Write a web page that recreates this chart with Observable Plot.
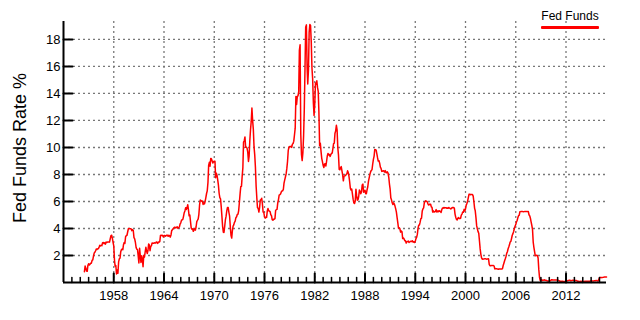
<!DOCTYPE html>
<html>
<head>
<meta charset="utf-8">
<script src="https://cdn.jsdelivr.net/npm/d3@7"></script>
<script src="https://cdn.jsdelivr.net/npm/@observablehq/plot@0.6"></script>
<style>
  html, body { margin: 0; padding: 0; background: #fff; }
  #wrap { position: relative; width: 640px; height: 320px; font-family: "Liberation Sans", Arial, sans-serif; }
  #legend { position: absolute; left: 541px; top: 9px; width: 58px; font-size: 12px; color: #000; text-align: center; white-space: nowrap; }
  #legend .sw { margin-top: 3px; height: 2.5px; background: #ff0000; border-radius: 1px; }
  #ylabel { position: absolute; left: 20px; top: 148px; font-size: 18px; color: #000; white-space: nowrap; transform: translate(-50%, -50%) rotate(-90deg); }
</style>
</head>
<body>
<div id="wrap"><div id="legend"><div id="legendText"></div><div class="sw"></div></div><div id="ylabel"></div></div>
<script>
// Monthly effective Fed Funds rate (%), starting July 1954
const seriesName = "Fed Funds";
const startYear = 1954, startMonth = 7;
const rates1950s = [
  0.80, 1.22, 1.06, 0.85, 0.83, 1.28,
  1.39, 1.29, 1.35, 1.43, 1.43, 1.64, 1.68, 1.96, 2.18, 2.24, 2.35, 2.48,
  2.45, 2.50, 2.50, 2.62, 2.75, 2.71, 2.75, 2.73, 2.95, 2.96, 2.88, 2.94,
  2.84, 3.00, 2.96, 3.00, 3.00, 3.00, 2.99, 3.24, 3.47, 3.50, 3.28, 2.98,
  2.72, 1.67, 1.20, 1.26, 0.63, 0.93, 0.68, 1.53, 1.76, 1.80, 2.27, 2.42,
  2.48, 2.43, 2.80, 2.96, 2.90, 3.39, 3.47, 3.50, 3.76, 3.98, 4.00, 3.99
];
const rates1960s = [
  3.99, 3.97, 3.84, 3.92, 3.85, 3.32, 3.23, 2.98, 2.60, 2.47, 2.44, 1.98,
  1.45, 2.54, 2.02, 1.49, 1.98, 1.73, 1.17, 2.00, 1.88, 2.26, 2.61, 2.33,
  2.15, 2.37, 2.85, 2.78, 2.36, 2.68, 2.71, 2.93, 2.90, 2.90, 2.94, 2.93,
  2.92, 3.00, 2.98, 2.90, 3.00, 2.99, 3.02, 3.49, 3.48, 3.50, 3.48, 3.38,
  3.48, 3.48, 3.43, 3.47, 3.50, 3.50, 3.42, 3.50, 3.45, 3.36, 3.52, 3.85,
  3.90, 3.98, 4.04, 4.09, 4.10, 4.04, 4.09, 4.12, 4.01, 4.08, 4.10, 4.32,
  4.42, 4.60, 4.65, 4.67, 4.90, 5.17, 5.30, 5.53, 5.40, 5.53, 5.76, 5.40,
  4.94, 5.00, 4.53, 4.05, 3.94, 3.98, 3.79, 3.90, 3.99, 3.88, 4.13, 4.51,
  4.61, 4.71, 5.05, 5.76, 6.11, 6.07, 6.02, 6.03, 5.78, 5.91, 5.82, 6.02,
  6.30, 6.61, 6.79, 7.41, 8.67, 8.90, 8.61, 9.19, 9.15, 9.00, 8.85, 8.97
];
const rates1970s = [
  8.98, 8.98, 7.76, 8.10, 7.94, 7.60, 7.21, 6.61, 6.29, 6.20, 5.60, 4.90,
  4.14, 3.72, 3.71, 4.16, 4.63, 4.91, 5.31, 5.56, 5.55, 5.20, 4.91, 4.14,
  3.50, 3.29, 3.83, 4.17, 4.27, 4.46, 4.55, 4.80, 4.87, 5.04, 5.06, 5.33,
  5.94, 6.58, 7.09, 7.12, 7.84, 8.49, 10.40, 10.50, 10.78, 10.01, 10.03, 9.95,
  9.65, 8.97, 9.35, 10.51, 11.31, 11.93, 12.92, 12.01, 11.34, 10.06, 9.45, 8.53,
  7.13, 6.24, 5.54, 5.49, 5.22, 5.55, 6.10, 6.14, 6.24, 5.82, 5.22, 5.20,
  4.87, 4.77, 4.84, 4.82, 5.29, 5.48, 5.31, 5.29, 5.25, 5.02, 4.95, 4.65,
  4.61, 4.68, 4.69, 4.73, 5.35, 5.39, 5.42, 5.90, 6.14, 6.47, 6.51, 6.56,
  6.70, 6.78, 6.79, 6.89, 7.36, 7.60, 7.81, 8.04, 8.45, 8.96, 9.76, 10.03,
  10.07, 10.06, 10.09, 10.01, 10.24, 10.29, 10.47, 10.94, 11.43, 13.77, 13.18, 13.78
];
const rates1980s = [
  13.82, 14.13, 17.19, 17.61, 10.98, 9.47, 9.03, 9.61, 10.87, 12.81, 15.85, 18.90,
  19.08, 15.93, 14.70, 15.72, 18.52, 19.10, 19.04, 17.82, 15.87, 15.08, 13.31, 12.37,
  13.22, 14.78, 14.68, 14.94, 14.45, 14.15, 12.59, 10.12, 10.31, 9.71, 9.20, 8.95,
  8.68, 8.51, 8.77, 8.80, 8.63, 8.98, 9.37, 9.56, 9.45, 9.48, 9.34, 9.47,
  9.56, 9.59, 9.91, 10.29, 10.32, 11.06, 11.23, 11.64, 11.30, 9.99, 9.43, 8.38,
  8.35, 8.50, 8.58, 8.27, 7.97, 7.53, 7.88, 7.90, 7.92, 7.99, 8.05, 8.27,
  8.14, 7.86, 7.48, 6.99, 6.85, 6.92, 6.56, 6.17, 5.89, 5.85, 6.04, 6.91,
  6.43, 6.10, 6.13, 6.37, 6.85, 6.73, 6.58, 6.73, 7.22, 7.29, 6.69, 6.77,
  6.83, 6.58, 6.58, 6.87, 7.09, 7.51, 7.75, 8.01, 8.19, 8.30, 8.35, 8.76,
  9.12, 9.36, 9.85, 9.84, 9.81, 9.53, 9.24, 8.99, 9.02, 8.84, 8.55, 8.45
];
const rates1990s = [
  8.23, 8.24, 8.28, 8.26, 8.18, 8.29, 8.15, 8.13, 8.20, 8.11, 7.81, 7.31,
  6.91, 6.25, 6.12, 5.91, 5.78, 5.90, 5.82, 5.66, 5.45, 5.21, 4.81, 4.43,
  4.03, 4.06, 3.98, 3.73, 3.82, 3.76, 3.25, 3.30, 3.22, 3.10, 3.09, 2.92,
  3.02, 3.03, 3.07, 2.96, 3.00, 3.04, 3.06, 3.03, 3.09, 2.99, 3.02, 2.96,
  3.05, 3.25, 3.34, 3.56, 4.01, 4.25, 4.26, 4.47, 4.73, 4.76, 5.29, 5.45,
  5.53, 5.92, 5.98, 6.05, 6.01, 6.00, 5.85, 5.74, 5.80, 5.76, 5.80, 5.60,
  5.56, 5.22, 5.31, 5.22, 5.24, 5.27, 5.40, 5.22, 5.30, 5.24, 5.31, 5.29,
  5.25, 5.19, 5.39, 5.51, 5.50, 5.56, 5.52, 5.54, 5.54, 5.50, 5.52, 5.50,
  5.56, 5.51, 5.49, 5.45, 5.49, 5.56, 5.54, 5.55, 5.51, 5.07, 4.83, 4.68,
  4.63, 4.76, 4.81, 4.74, 4.74, 4.76, 4.99, 5.07, 5.22, 5.20, 5.42, 5.30
];
const rates2000s = [
  5.45, 5.73, 5.85, 6.02, 6.27, 6.53, 6.54, 6.50, 6.52, 6.51, 6.51, 6.40,
  5.98, 5.49, 5.31, 4.80, 4.21, 3.97, 3.77, 3.65, 3.07, 2.49, 2.09, 1.82,
  1.73, 1.74, 1.73, 1.75, 1.75, 1.75, 1.73, 1.74, 1.75, 1.75, 1.34, 1.24,
  1.24, 1.26, 1.25, 1.26, 1.26, 1.22, 1.01, 1.03, 1.01, 1.01, 1.00, 0.98,
  1.00, 1.01, 1.00, 1.00, 1.00, 1.03, 1.26, 1.43, 1.61, 1.76, 1.93, 2.16,
  2.28, 2.50, 2.63, 2.79, 3.00, 3.04, 3.26, 3.50, 3.62, 3.78, 4.00, 4.16,
  4.29, 4.49, 4.59, 4.79, 4.94, 4.99, 5.24, 5.25, 5.25, 5.25, 5.25, 5.24,
  5.25, 5.26, 5.26, 5.25, 5.25, 5.25, 5.26, 5.02, 4.94, 4.76, 4.49, 4.24,
  3.94, 2.98, 2.61, 2.28, 1.98, 2.00, 2.01, 2.00, 1.81, 0.97, 0.39, 0.16,
  0.15, 0.22, 0.18, 0.15, 0.18, 0.21, 0.16, 0.16, 0.15, 0.12, 0.12, 0.12
];
const rates2010s = [
  0.11, 0.13, 0.16, 0.20, 0.20, 0.18, 0.18, 0.19, 0.19, 0.19, 0.19, 0.18,
  0.17, 0.16, 0.14, 0.10, 0.09, 0.09, 0.07, 0.10, 0.08, 0.07, 0.08, 0.07,
  0.08, 0.10, 0.13, 0.14, 0.16, 0.16, 0.16, 0.13, 0.14, 0.16, 0.16, 0.16,
  0.14, 0.15, 0.14, 0.15, 0.11, 0.09, 0.09, 0.08, 0.08, 0.09, 0.08, 0.09,
  0.07, 0.07, 0.08, 0.09, 0.09, 0.10, 0.09, 0.09, 0.09, 0.09, 0.09, 0.12,
  0.11, 0.11, 0.11, 0.12, 0.12, 0.13, 0.13, 0.14, 0.14, 0.12, 0.12, 0.24,
  0.34, 0.38, 0.36, 0.37, 0.37, 0.38, 0.39, 0.40, 0.40, 0.40, 0.41
];
const yTicks = [2, 4, 6, 8, 10, 12, 14, 16, 18];
const xMajorYears = [1958, 1964, 1970, 1976, 1982, 1988, 1994, 2000, 2006, 2012];
const xMinorYears = d3.range(1953, 2017);
const xDomainYears = [1952, 2016.83];
const yDomain = [0, 19.33];
const yLabel = "Fed Funds Rate %";

document.getElementById("legendText").textContent = seriesName;
document.getElementById("ylabel").textContent = yLabel;

const rates = [].concat(rates1950s, rates1960s, rates1970s, rates1980s, rates1990s, rates2000s, rates2010s);
const data = rates.map((v, i) => ({date: new Date(startYear, startMonth - 1 + i, 1), value: v}));
const yr = y => new Date(Math.floor(y), Math.round((y % 1) * 12), 1);
const majorDates = xMajorYears.map(y => new Date(y, 0, 1));
const minorDates = xMinorYears.filter(y => !xMajorYears.includes(y)).map(y => new Date(y, 0, 1));
const x0 = yr(xDomainYears[0]);

const tickShape = {draw(ctx, l) { ctx.moveTo(0, 0); ctx.lineTo(0, -l); }};

const chart = Plot.plot({
  width: 640,
  height: 320,
  marginLeft: 63,
  marginRight: 34,
  marginTop: 21,
  marginBottom: 38,
  style: {fontFamily: '"Liberation Sans", Arial, sans-serif', fontSize: "13px", color: "#000", background: "#fff"},
  x: {type: "time", domain: [x0, yr(xDomainYears[1])]},
  y: {domain: yDomain},
  marks: [
    Plot.gridX(majorDates, {stroke: "#777", strokeOpacity: 1, strokeDasharray: "2,3", strokeWidth: 1.3}),
    Plot.gridY(yTicks, {stroke: "#777", strokeOpacity: 1, strokeDasharray: "2,3", strokeWidth: 1.3}),
    Plot.line(data, {x: "date", y: "value", stroke: "#ff0000", strokeWidth: 1.5}),
    Plot.ruleX([x0], {stroke: "#000", strokeWidth: 2}),
    Plot.ruleY([0], {stroke: "#000", strokeWidth: 2}),
    Plot.vector(yTicks, {x: x0, y: d => d, length: 9, rotate: 90, anchor: "start", shape: tickShape, stroke: "#000", strokeWidth: 2}),
    Plot.vector(majorDates, {x: d => d, y: 0, length: 9, rotate: 0, anchor: "start", shape: tickShape, stroke: "#000", strokeWidth: 2}),
    Plot.vector(minorDates, {x: d => d, y: 0, length: 5, rotate: 0, anchor: "start", shape: tickShape, stroke: "#000", strokeWidth: 1.5}),
    Plot.axisY(yTicks, {tickSize: 0, tickPadding: 3, fontSize: 13, label: null}),
    Plot.axisX(majorDates, {tickSize: 0, tickPadding: 8, fontSize: 13, tickFormat: d3.timeFormat("%Y"), label: null})
  ]
});
document.getElementById("wrap").prepend(chart);
</script>
</body>
</html>
